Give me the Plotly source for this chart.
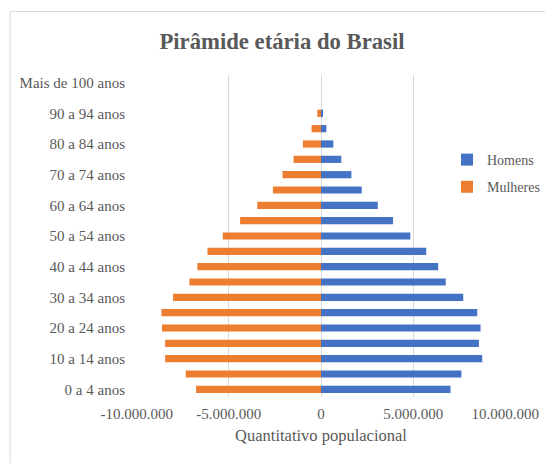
import plotly.graph_objects as go

faixas = ["0 a 4 anos", "5 a 9 anos", "10 a 14 anos", "15 a 19 anos", "20 a 24 anos",
          "25 a 29 anos", "30 a 34 anos", "35 a 39 anos", "40 a 44 anos", "45 a 49 anos",
          "50 a 54 anos", "55 a 59 anos", "60 a 64 anos", "65 a 69 anos", "70 a 74 anos",
          "75 a 79 anos", "80 a 84 anos", "85 a 89 anos", "90 a 94 anos", "95 a 99 anos",
          "Mais de 100 anos"]

homens = [7030000, 7620000, 8750000, 8570000, 8660000, 8480000, 7720000, 6770000,
          6360000, 5710000, 4850000, 3910000, 3080000, 2210000, 1650000, 1100000,
          670000, 290000, 110000, 0, 0]

mulheres = [-6780000, -7340000, -8460000, -8460000, -8630000, -8660000, -8030000, -7140000,
            -6710000, -6160000, -5330000, -4390000, -3460000, -2610000, -2090000, -1490000,
            -980000, -510000, -200000, 0, 0]

x_ticks = [-10000000, -5000000, 0, 5000000, 10000000]
x_tick_labels = ["-10.000.000", "-5.000.000", "0", "5.000.000", "10.000.000"]

y_ticks = faixas[::2]

W, H = 545, 463
L, R, T, B = 136, 39, 75, 66
pw, ph = W - L - R, H - T - B

def px_x(p):
    return (p - L) / pw

def px_y(p):
    return (H - B - p) / ph

TXT = "#595959"
FONT = "Liberation Serif"

fig = go.Figure()
fig.add_trace(go.Bar(y=faixas, x=homens, orientation="h", name="Homens",
                     marker=dict(color="#4472C4", line=dict(width=0)), width=0.47,
                     legendgroup="h"))
fig.add_trace(go.Bar(y=faixas, x=mulheres, orientation="h", name="Mulheres",
                     marker=dict(color="#ED7D31", line=dict(width=0)), width=0.47,
                     legendgroup="m"))

fig.update_layout(
    width=W, height=H,
    margin=dict(l=L, r=R, t=T, b=B, autoexpand=False),
    paper_bgcolor="white", plot_bgcolor="white",
    barmode="relative",
    font=dict(family=FONT, color=TXT, size=15),
    title=dict(text="<b>Pirâmide etária do Brasil</b>", x=282 / W, xanchor="center",
               y=1 - 41 / H, yanchor="middle", xref="container", yref="container",
               automargin=False,
               font=dict(family=FONT, size=22.7, color=TXT)),
    xaxis=dict(range=[-10040000, 10040000], tickvals=x_ticks, ticktext=x_tick_labels,
               showgrid=True, gridcolor="#d9d9d9", gridwidth=1,
               zeroline=True, zerolinecolor="#d9d9d9", zerolinewidth=1,
               showline=False, ticks="", automargin=False, ticklabelstandoff=6,
               tickfont=dict(family=FONT, size=15, color=TXT),
               title=dict(text="Quantitativo populacional",
                          font=dict(family=FONT, size=16.5, color=TXT),
                          standoff=8)),
    yaxis=dict(type="category", categoryorder="array", categoryarray=faixas,
               range=[-0.5, 20.5], tickvals=y_ticks, ticktext=y_ticks,
               showgrid=False, zeroline=False, showline=False, ticks="",
               automargin=False, ticklabelstandoff=10,
               tickfont=dict(family=FONT, size=15, color=TXT)),
    legend=dict(x=px_x(447), y=px_y(144), xanchor="left", yanchor="top",
                traceorder="grouped", tracegroupgap=6, bgcolor="rgba(0,0,0,0)",
                font=dict(family=FONT, size=14, color=TXT)),
    shapes=[
        dict(type="line", xref="paper", yref="paper", x0=px_x(10), x1=px_x(560),
             y0=px_y(11.5), y1=px_y(11.5), line=dict(color="#d9d9d9", width=1)),
        dict(type="line", xref="paper", yref="paper", x0=px_x(10), x1=px_x(10),
             y0=px_y(11.5), y1=px_y(480), line=dict(color="#d9d9d9", width=1)),
    ],
)

fig.write_html("out.html", config={"displayModeBar": False},
               post_script="document.body.style.margin='0px';")
